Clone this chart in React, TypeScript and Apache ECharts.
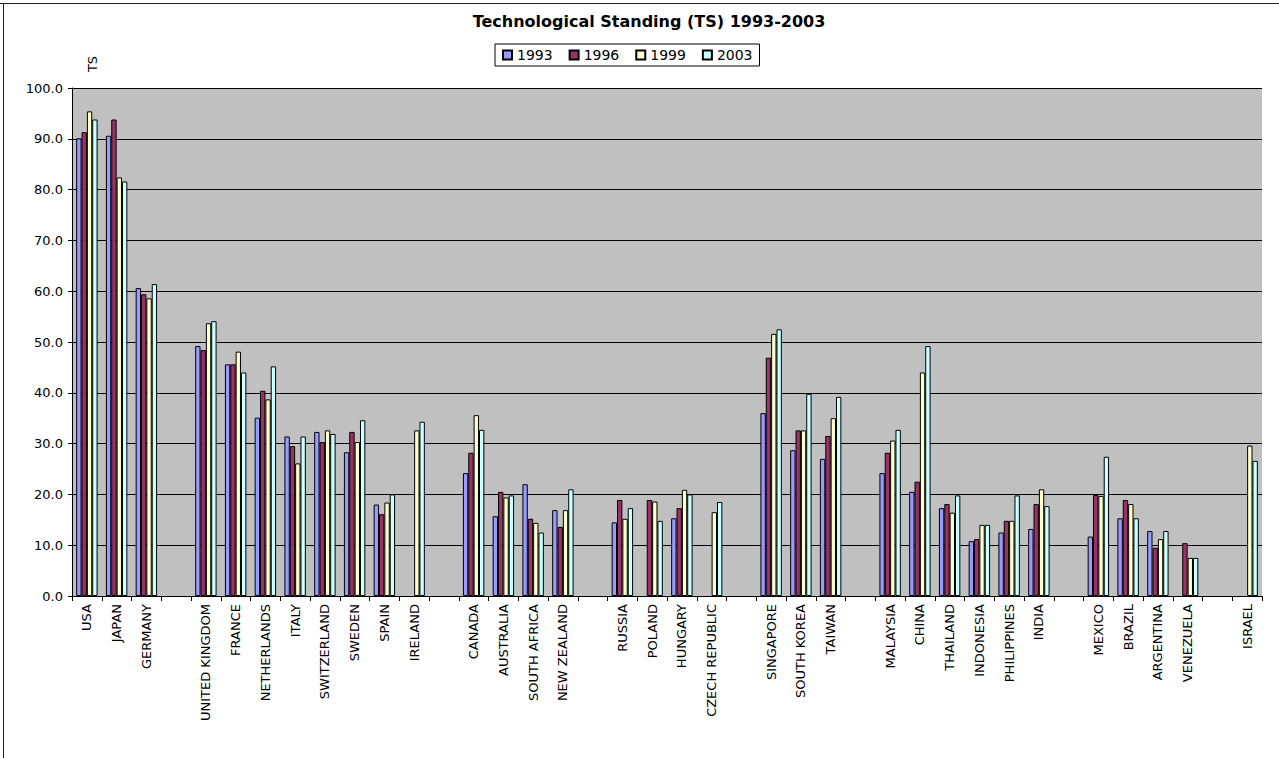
import React, { useEffect, useRef } from "react";
import * as echarts from "echarts";

const titleText = "Technological Standing (TS) 1993-2003";
const yAxisTitle = "TS";
const seriesNames = ["1993", "1996", "1999", "2003"];
const seriesColors = ["#9999FF", "#993366", "#FFFFCC", "#CCFFFF"];

const categories = [
  "USA", "JAPAN", "GERMANY", "",
  "UNITED KINGDOM", "FRANCE", "NETHERLANDS", "ITALY", "SWITZERLAND", "SWEDEN", "SPAIN", "IRELAND", "",
  "CANADA", "AUSTRALIA", "SOUTH AFRICA", "NEW ZEALAND", "",
  "RUSSIA", "POLAND", "HUNGARY", "CZECH REPUBLIC", "",
  "SINGAPORE", "SOUTH KOREA", "TAIWAN", "",
  "MALAYSIA", "CHINA", "THAILAND", "INDONESIA", "PHILIPPINES", "INDIA", "",
  "MEXICO", "BRAZIL", "ARGENTINA", "VENEZUELA", "",
  "ISRAEL",
];

const ts1993 = [
  90.1, 90.6, 60.6, null,
  49.2, 45.6, 35.1, 31.4, 32.3, 28.3, 18.0, null, null,
  24.2, 15.7, 22.0, 16.9, null,
  14.5, null, 15.3, null, null,
  36.0, 28.7, 27.0, null,
  24.2, 20.5, 17.3, 10.8, 12.5, 13.2, null,
  11.7, 15.3, 12.8, null, null,
  null,
];

const ts1996 = [
  91.3, 93.8, 59.4, null,
  48.4, 45.6, 40.4, 29.5, 30.3, 32.3, 16.1, null, null,
  28.2, 20.5, 15.2, 13.6, null,
  18.9, 18.9, 17.3, null, null,
  46.9, 32.6, 31.5, null,
  28.2, 22.5, 18.1, 11.2, 14.8, 18.1, null,
  19.9, 18.9, 9.5, 10.4, null,
  null,
];

const ts1999 = [
  95.4, 82.4, 58.6, null,
  53.7, 48.1, 38.7, 26.1, 32.6, 30.3, 18.4, 32.6, null,
  35.6, 19.4, 14.4, 16.9, null,
  15.2, 18.6, 20.9, 16.5, null,
  51.6, 32.6, 35.0, null,
  30.6, 44.0, 16.4, 14.0, 14.8, 21.0, null,
  19.7, 18.1, 11.2, 7.5, null,
  29.6,
];

const ts2003 = [
  93.8, 81.6, 61.4, null,
  54.1, 44.0, 45.2, 31.4, 31.9, 34.6, 20.0, 34.3, null,
  32.7, 19.8, 12.5, 21.0, null,
  17.3, 14.8, 20.0, 18.5, null,
  52.5, 39.8, 39.2, null,
  32.7, 49.2, 19.8, 14.0, 19.8, 17.7, null,
  27.4, 15.3, 12.8, 7.5, null,
  26.6,
];

const seriesValues = [ts1993, ts1996, ts1999, ts2003];

export default function App() {
  const ref = useRef<HTMLDivElement>(null);

  useEffect(() => {
    if (!ref.current) return;
    const chart = echarts.init(ref.current, null, { renderer: "svg" });
    const font = "DejaVu Sans";
    chart.setOption({
      animation: false,
      backgroundColor: "#FFFFFF",
      title: {
        text: titleText,
        left: 644,
        textAlign: "center",
        top: 8,
        textStyle: { fontFamily: font, fontSize: 16, fontWeight: "bold", color: "#000" },
      },
      legend: {
        data: seriesNames,
        left: 495,
        top: 44,
        padding: [4, 7, 4, 7],
        itemGap: 16,
        itemWidth: 9,
        itemHeight: 9,
        borderColor: "#000",
        borderWidth: 1,
        icon: "rect",
        textStyle: { fontFamily: font, fontSize: 14, color: "#000" },
      },
      grid: {
        left: 72,
        right: 17,
        top: 88,
        bottom: 162,
        show: true,
        backgroundColor: "#C0C0C0",
        borderWidth: 0,
      },
      xAxis: {
        type: "category",
        data: categories,
        axisLine: { show: true, lineStyle: { color: "#000", width: 1 } },
        axisTick: { show: true, interval: 0, length: 5, lineStyle: { color: "#000" } },
        axisLabel: {
          interval: 0,
          rotate: 90,
          margin: 8,
          fontFamily: font,
          fontSize: 13,
          color: "#000",
        },
        splitLine: { show: false },
      },
      yAxis: {
        type: "value",
        min: 0,
        max: 100,
        interval: 10,
        axisLine: { show: true, lineStyle: { color: "#000", width: 1 } },
        axisTick: { show: true, length: 4, lineStyle: { color: "#000" } },
        axisLabel: {
          margin: 9,
          fontFamily: font,
          fontSize: 13,
          color: "#000",
          formatter: (v: number) => v.toFixed(1),
        },
        splitLine: { show: true, lineStyle: { color: "#000", width: 1 } },
      },
      series: seriesNames.map((name, i) => ({
        name,
        type: "bar",
        data: seriesValues[i],
        barGap: "0%",
        barCategoryGap: "28%",
        itemStyle: { color: seriesColors[i], borderColor: "#000", borderWidth: 1 },
        emphasis: { disabled: true },
      })),
      graphic: [
        {
          type: "text",
          x: 92,
          y: 64,
          rotation: Math.PI / 2,
          style: {
            text: yAxisTitle,
            fontFamily: font,
            fontSize: 13,
            fill: "#000",
            textAlign: "center",
            textVerticalAlign: "middle",
          },
        },
        {
          type: "line",
          shape: { x1: 0, y1: 3.5, x2: 1279, y2: 3.5 },
          style: { stroke: "#222", lineWidth: 1 },
        },
        {
          type: "line",
          shape: { x1: 3.5, y1: 3, x2: 3.5, y2: 758 },
          style: { stroke: "#222", lineWidth: 1 },
        },
      ],
    });
    return () => chart.dispose();
  }, []);

  return (
    <div
      ref={ref}
      style={{ position: "absolute", left: 0, top: 0, width: 1279, height: 758 }}
    />
  );
}
